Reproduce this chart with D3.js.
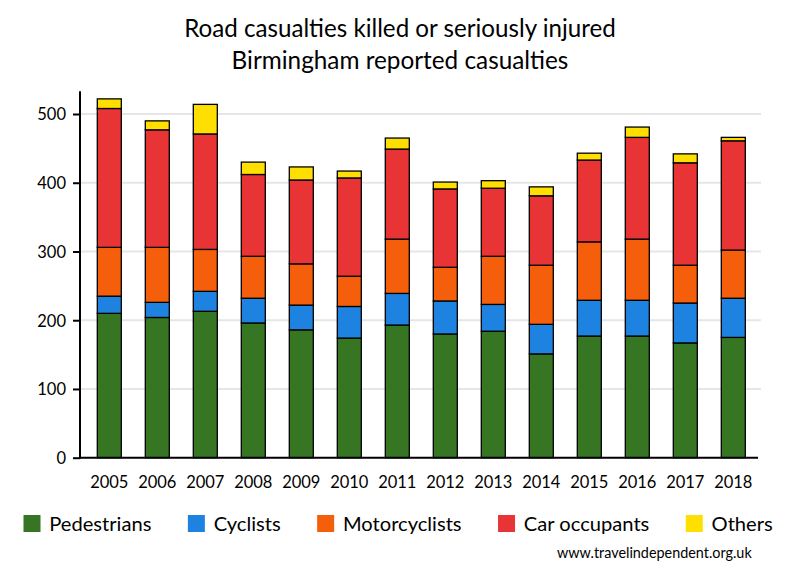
<!DOCTYPE html>
<html>
<head>
<meta charset="utf-8">
<script src="https://cdn.jsdelivr.net/npm/d3@7"></script>
<style>
  html, body { margin: 0; padding: 0; background: #fff; }
  svg { display: block; font-family: Lato, "Open Sans", sans-serif; }
</style>
</head>
<body>
<svg id="chart" width="800" height="580"></svg>
<script>
const years = ["2005","2006","2007","2008","2009","2010","2011","2012","2013","2014","2015","2016","2017","2018"];
const seriesNames = ["Pedestrians","Cyclists","Motorcyclists","Car occupants","Others"];
const pedestrians  = [210,204,213,196,186,174,193,180,184,151,177,177,167,175];
const cyclists     = [ 25, 22, 29, 36, 36, 46, 46, 48, 39, 43, 52, 52, 58, 57];
const motorcyclists= [ 71, 80, 61, 61, 60, 44, 79, 49, 70, 86, 85, 89, 55, 70];
const carOccupants = [202,171,168,119,122,143,131,114, 99,101,119,148,149,159];
const others       = [ 14, 13, 43, 18, 19, 10, 16, 10, 11, 13, 10, 15, 13,  5];
const yTicks = [0,100,200,300,400,500];
const titleLines = ["Road casualties killed or seriously injured","Birmingham reported casualties"];
const sourceText = "www.travelindependent.org.uk";

const colors = ["#367622","#1e83e0","#f55f0c","#e83434","#ffdf00"];
const seriesValues = [pedestrians, cyclists, motorcyclists, carOccupants, others];

const table = years.map((yr, i) => {
  const row = { year: yr };
  seriesNames.forEach((s, k) => row[s] = seriesValues[k][i]);
  return row;
});

const svg = d3.select("#chart");

const x = d3.scaleBand().domain(years).range([85.3, 757.3]).paddingInner(0.5).paddingOuter(0.25);
const y = d3.scaleLinear().domain([0, 500]).range([457.7, 114]);

// gridlines
svg.append("g").selectAll("line").data(yTicks.filter(d => d > 0)).join("line")
  .attr("x1", 80).attr("x2", 761)
  .attr("y1", d => y(d)).attr("y2", d => y(d))
  .attr("stroke", "#e6e6e6").attr("stroke-width", 2);

// stacked bars
const stack = d3.stack().keys(seriesNames)(table);
svg.append("g").selectAll("g").data(stack).join("g")
  .attr("fill", (d, i) => colors[i])
  .selectAll("rect").data(d => d).join("rect")
  .attr("x", d => x(d.data.year))
  .attr("width", x.bandwidth())
  .attr("y", d => y(d[1]))
  .attr("height", d => y(d[0]) - y(d[1]))
  .attr("stroke", "#000").attr("stroke-width", 1.3);

// y axis
const yAxis = svg.append("g").attr("transform", "translate(80,0)")
  .call(d3.axisLeft(y).tickValues(yTicks).tickSize(7).tickPadding(7).tickFormat(d3.format("d")));
yAxis.select(".domain").remove();
yAxis.selectAll(".tick line").attr("stroke", "#000").attr("stroke-width", 2);
yAxis.selectAll(".tick text").attr("font-size", 16.5).attr("fill", "#000")
  .attr("font-family", "Lato, sans-serif").attr("dy", "0.36em");
svg.append("line").attr("x1", 80).attr("x2", 80).attr("y1", y(533)).attr("y2", y(0) + 1)
  .attr("stroke", "#000").attr("stroke-width", 2);

// x axis
const xAxis = svg.append("g").attr("transform", `translate(0,${y(0)})`)
  .call(d3.axisBottom(x).tickSize(0).tickPadding(0));
xAxis.select(".domain").remove();
xAxis.selectAll(".tick text").attr("font-size", 16.5).attr("fill", "#000")
  .attr("font-family", "Lato, sans-serif").attr("dy", null).attr("y", 30);
svg.append("line").attr("x1", 79).attr("x2", 758).attr("y1", y(0)).attr("y2", y(0))
  .attr("stroke", "#000").attr("stroke-width", 2);

// helper: fit text to a target width
function fit(sel, base, target) {
  sel.attr("font-size", base);
  const w = sel.node().getComputedTextLength();
  sel.attr("font-size", base * target / w);
}

// title
const tWidths = [432, 337];
const tBase = [36.7, 69];
titleLines.forEach((t, i) => {
  const tx = svg.append("text").attr("x", 400).attr("y", tBase[i])
    .attr("text-anchor", "middle").attr("fill", "#000").text(t);
  fit(tx, 24, tWidths[i]);
});

// legend
const legG = svg.append("g");
const legTexts = seriesNames.map(n => legG.append("text").attr("y", 531).attr("fill", "#000").text(n));
legTexts.forEach(t => t.attr("font-size", 19));
const sumW = legTexts.reduce((a, t) => a + t.node().getComputedTextLength(), 0);
const legFont = 19 * 474.6 / sumW;
legTexts.forEach(t => t.attr("font-size", legFont));
const sq = 17, gapSq = 8.8;
const totalText = legTexts.reduce((a, t) => a + t.node().getComputedTextLength(), 0);
const gapItem = (772.7 - 23.5 - totalText - 5 * (sq + gapSq)) / 4;
let cx = 23.5;
seriesNames.forEach((n, i) => {
  legG.append("rect").attr("x", cx).attr("y", 515).attr("width", sq).attr("height", sq).attr("fill", colors[i]);
  legTexts[i].attr("x", cx + sq + gapSq);
  cx += sq + gapSq + legTexts[i].node().getComputedTextLength() + gapItem;
});

// source
const src = svg.append("text").attr("x", 751.7).attr("y", 558).attr("text-anchor", "end")
  .attr("fill", "#000").text(sourceText);
fit(src, 14, 195);
</script>
</body>
</html>
